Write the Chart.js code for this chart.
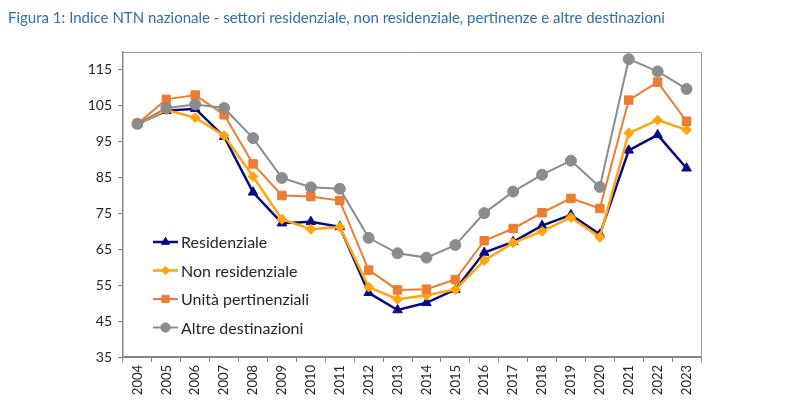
<!DOCTYPE html>
<html>
<head>
<meta charset="utf-8">
<script src="https://cdn.jsdelivr.net/npm/chart.js@4/dist/chart.umd.min.js"></script>
<style>
  html, body { margin: 0; padding: 0; background: #fff; }
  #wrap { width: 800px; height: 415px; position: relative; }
</style>
</head>
<body>
<div id="wrap"><canvas id="chart" width="800" height="415"></canvas></div>
<script>
const years = ['2004','2005','2006','2007','2008','2009','2010','2011','2012','2013',
               '2014','2015','2016','2017','2018','2019','2020','2021','2022','2023'];
const residenziale = [100, 103.6, 104.2, 96.4, 80.9, 72.3, 72.7, 71.3, 52.9, 48.1,
                      50.1, 53.8, 64.1, 67.1, 71.6, 74.6, 69.2, 92.6, 96.9, 87.6];
const nonResidenziale = [100, 103.8, 101.7, 96.7, 85.3, 73.4, 70.6, 71.2, 54.5, 51.1,
                         52.2, 53.8, 61.9, 66.8, 70.0, 73.9, 68.4, 97.4, 101.0, 98.3];
const pertinenziali = [100, 106.8, 108.0, 102.5, 88.8, 80.0, 79.7, 78.6, 59.2, 53.7,
                       53.9, 56.6, 67.4, 70.8, 75.2, 79.2, 76.4, 106.6, 111.6, 100.7];
const altre = [100, 104.4, 105.4, 104.4, 96.0, 84.9, 82.3, 81.9, 68.2, 63.9,
               62.7, 66.2, 75.1, 81.1, 85.8, 89.7, 82.4, 118.0, 114.6, 109.7];
const yTicks = [35, 45, 55, 65, 75, 85, 95, 105, 115];

const FONT = 'Lato, "Liberation Sans", sans-serif';

// legend drawn inside the plot area, lower left
const innerLegend = {
  id: 'innerLegend',
  afterDatasetsDraw(chart) {
    const { ctx, chartArea } = chart;
    const x0 = chartArea.left + 30;
    let y = chartArea.top + 190;
    ctx.save();
    chart.data.datasets.forEach(ds => {
      ctx.strokeStyle = ds.borderColor;
      ctx.lineWidth = ds.borderWidth;
      ctx.beginPath();
      ctx.moveTo(x0, y);
      ctx.lineTo(x0 + 25, y);
      ctx.stroke();
      ctx.fillStyle = ds.pointBackgroundColor;
      ctx.strokeStyle = ds.pointBackgroundColor;
      ctx.lineWidth = 1;
      Chart.helpers.drawPoint(ctx, { pointStyle: ds.pointStyle, radius: ds.pointRadius * 0.85, rotation: 0, borderWidth: 1 }, x0 + 12.5, y);
      ctx.fillStyle = '#262626';
      ctx.font = '16px ' + FONT;
      ctx.textAlign = 'left';
      ctx.textBaseline = 'middle';
      ctx.fillText(ds.label, x0 + 28, y + 1);
      y += 28.5;
    });
    ctx.restore();
  }
};

// thin frame on top and right of the plot area
const frame = {
  id: 'frame',
  beforeDatasetsDraw(chart) {
    const { ctx, chartArea: a } = chart;
    ctx.save();
    ctx.strokeStyle = '#9a9a9a';
    ctx.lineWidth = 1;
    ctx.beginPath();
    ctx.moveTo(a.left, a.top + 0.5);
    ctx.lineTo(a.right + 0.5, a.top + 0.5);
    ctx.lineTo(a.right + 0.5, a.bottom);
    ctx.stroke();
    ctx.restore();
  }
};

function series(label, data, color, style, radius, width, order) {
  return {
    label, data, order,
    borderColor: color,
    backgroundColor: color,
    pointBackgroundColor: color,
    pointBorderColor: color,
    pointStyle: style,
    pointRadius: radius,
    pointBorderWidth: 1,
    borderWidth: width,
    tension: 0
  };
}

new Chart(document.getElementById('chart'), {
  type: 'line',
  data: {
    labels: years,
    datasets: [
      series('Residenziale', residenziale, '#0a0a80', 'triangle', 5.5, 2.5, 4),
      series('Non residenziale', nonResidenziale, '#ffa50f', 'rectRot', 5, 2.5, 3),
      series('Unità pertinenziali', pertinenziali, '#ed7d31', 'rect', 6, 2, 2),
      series('Altre destinazioni', altre, '#8c8c8c', 'circle', 5.5, 2, 1)
    ]
  },
  options: {
    responsive: false,
    animation: false,
    layout: { padding: { left: 8, right: 99, top: 0, bottom: 0 } },
    plugins: {
      legend: { display: false },
      tooltip: { enabled: false },
      title: {
        display: true,
        text: 'Figura 1: Indice NTN nazionale - settori residenziale, non residenziale, pertinenze e altre destinazioni',
        align: 'start',
        color: '#2e6fb0',
        font: { family: FONT, size: 15, weight: 'normal' },
        padding: { top: 9, bottom: 25 }
      }
    },
    scales: {
      x: {
        offset: true,
        grid: { display: true, drawOnChartArea: false, offset: true, tickLength: 5, color: '#868686' },
        border: { color: '#868686', width: 2 },
        ticks: {
          maxRotation: 90, minRotation: 90, autoSkip: false,
          color: '#262626', padding: 3,
          font: { family: FONT, size: 13 }
        },
        afterFit(s) { s.height = 58; }
      },
      y: {
        min: 35, max: 120,
        afterBuildTicks(s) { s.ticks = yTicks.map(v => ({ value: v })); },
        grid: { display: true, drawOnChartArea: false, tickLength: 5, color: '#868686' },
        border: { color: '#868686', width: 1.5 },
        ticks: {
          color: '#262626', padding: 6,
          font: { family: FONT, size: 14 }
        },
        afterFit(s) { s.width = 115; }
      }
    }
  },
  plugins: [frame, innerLegend]
});
</script>
</body>
</html>
